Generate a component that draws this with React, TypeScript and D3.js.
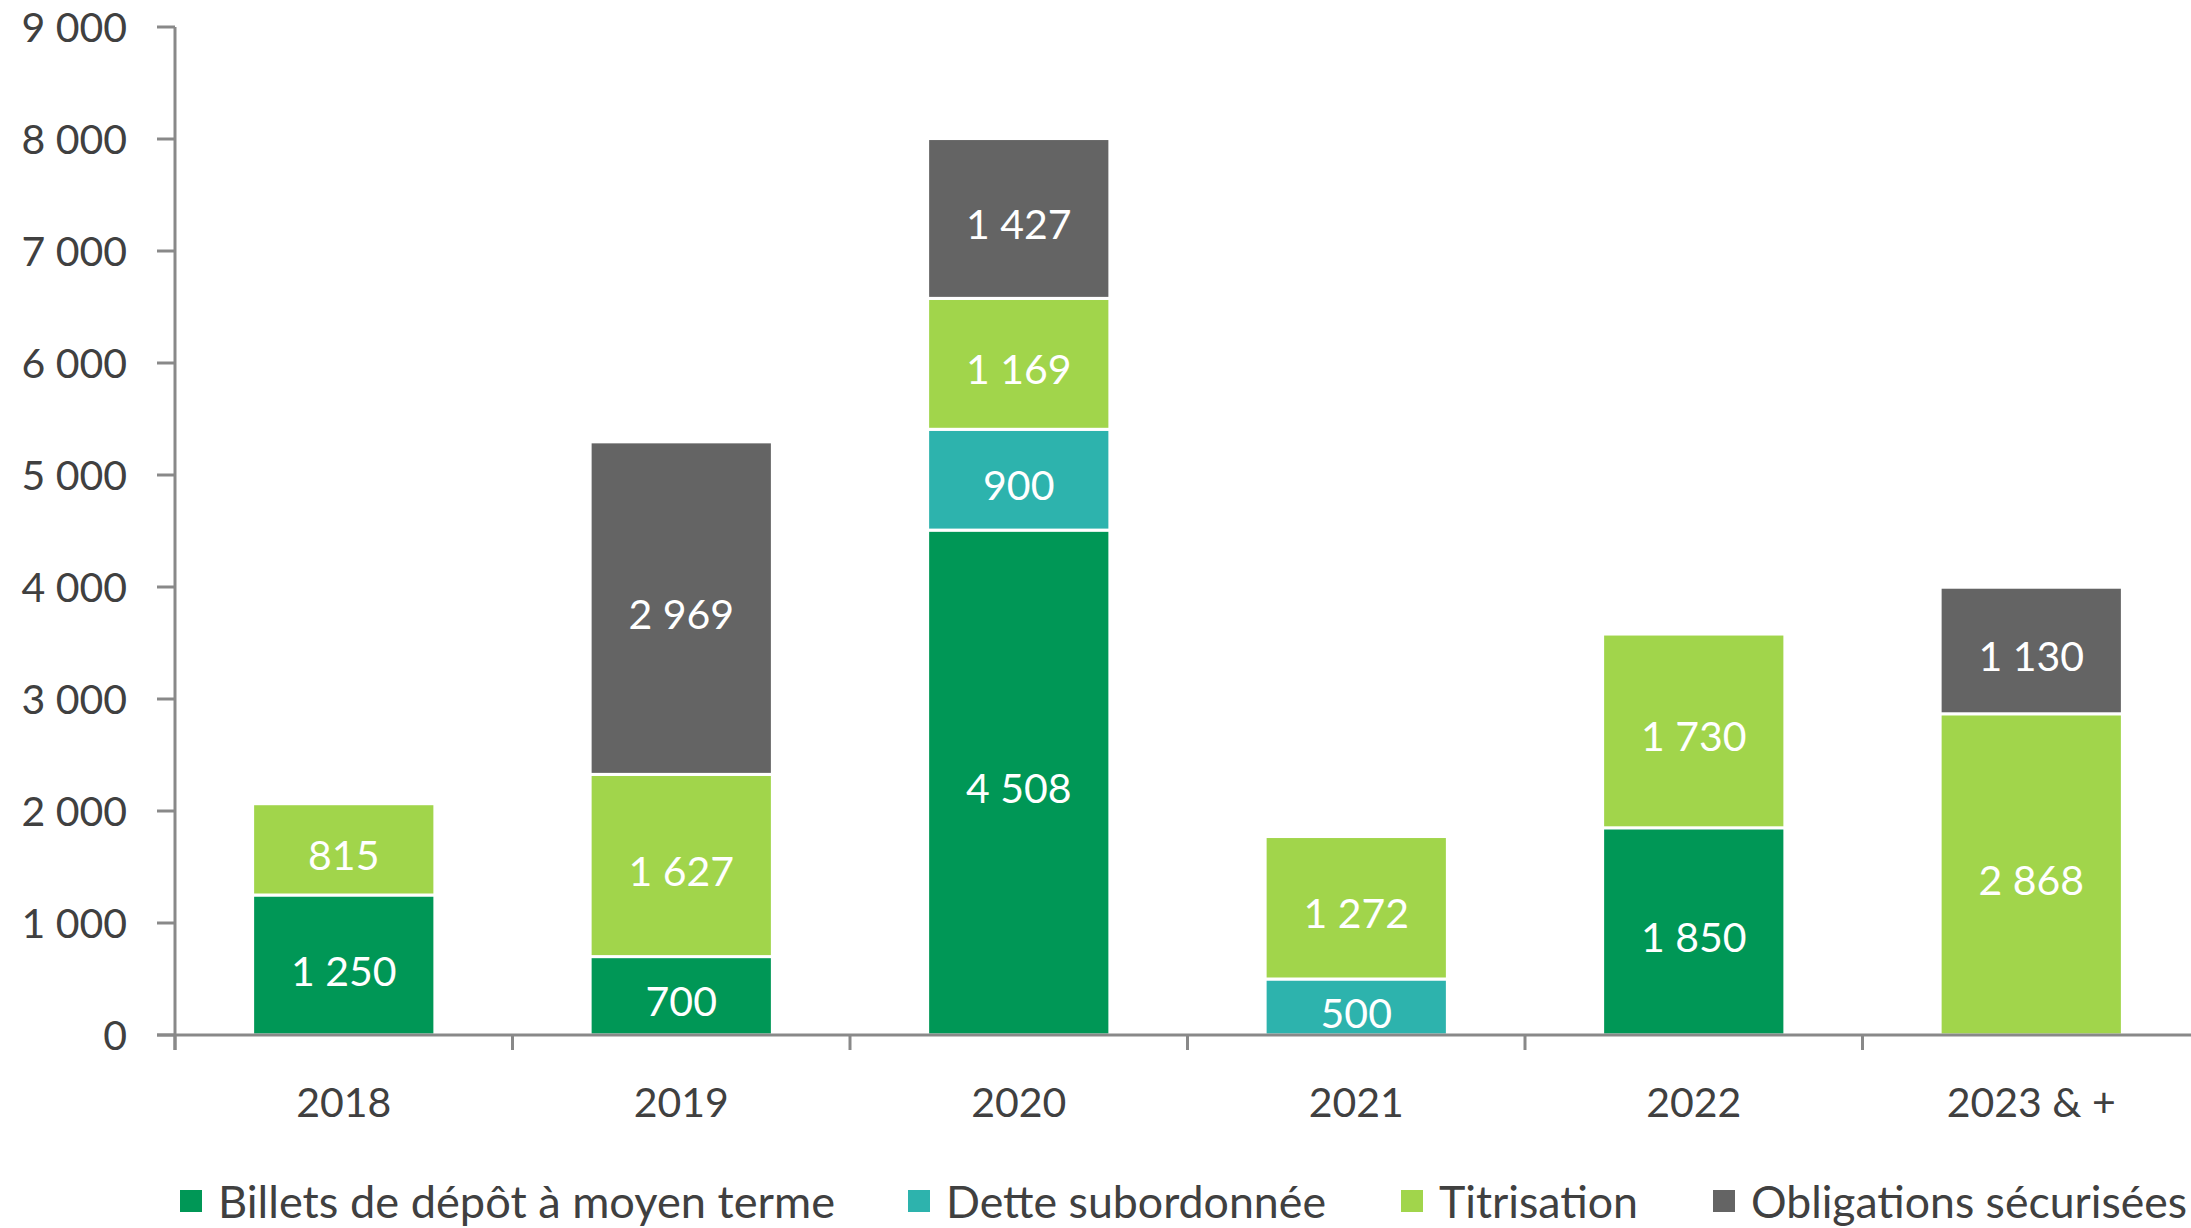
import React from "react";
import * as d3 from "d3";

const categories = ["2018", "2019", "2020", "2021", "2022", "2023 & +"];
const seriesNames = ["Billets de dépôt à moyen terme", "Dette subordonnée", "Titrisation", "Obligations sécurisées"];
const billets = [1250, 700, 4508, 0, 1850, 0];
const dette = [0, 0, 900, 500, 0, 0];
const titrisation = [815, 1627, 1169, 1272, 1730, 2868];
const obligations = [0, 2969, 1427, 0, 0, 1130];
const colors = ["#009756", "#2db3ad", "#a1d54b", "#646464"];
const yTicks = [0, 1000, 2000, 3000, 4000, 5000, 6000, 7000, 8000, 9000];

const W = 2191, H = 1228;
const FONT = "Lato, 'Open Sans', sans-serif";
const fmt = (v: number) => {
  const s = String(v);
  return s.replace(/\B(?=(\d{3})+(?!\d))/g, " ");
};

export default function App() {
  const x = d3.scaleBand<string>().domain(categories).range([175, 175 + 6 * 337.5]).paddingInner(0.46).paddingOuter(0.23);
  const y = d3.scaleLinear().domain([0, 9000]).range([1035, 27]);
  const seriesVals = [billets, dette, titrisation, obligations];
  const rows = categories.map((c, i) => ({ cat: c, s0: billets[i], s1: dette[i], s2: titrisation[i], s3: obligations[i] }));
  const stack = d3.stack<any>().keys(["s0", "s1", "s2", "s3"])(rows);
  const step = x.step();
  const legendX = [180, 908, 1401, 1713];
  const legendW = [617, 380, 199, 436];
  return (
    <svg width={W} height={H} style={{ position: "fixed", left: 0, top: 0, background: "#fff" }} fontFamily={FONT}>
      <rect width={W} height={H} fill="#fff" />
      {stack.map((layer, si) =>
        layer.map((d, ci) => {
          const v = seriesVals[si][ci];
          if (!v) return null;
          const y0 = y(d[0]), y1 = y(d[1]);
          const bx = x(categories[ci])!;
          return (
            <g key={`${si}-${ci}`}>
              <rect x={bx} y={y1} width={x.bandwidth()} height={y0 - y1} fill={colors[si]} stroke="#fff" strokeWidth={3} />
              <text x={bx + x.bandwidth() / 2} y={(y0 + y1) / 2} dy="0.5em" textAnchor="middle" fill="#fff" fontSize={41}>{fmt(v)}</text>
            </g>
          );
        })
      )}
      {/* y axis */}
      <line x1={175} x2={175} y1={27} y2={1050} stroke="#898989" strokeWidth={3} />
      {yTicks.map((t) => (
        <g key={t}>
          <line x1={157} x2={175} y1={y(t)} y2={y(t)} stroke="#898989" strokeWidth={3} />
          <text x={127} y={y(t)} dy="0.36em" textAnchor="end" fill="#404040" fontSize={41}>{fmt(t)}</text>
        </g>
      ))}
      {/* x axis */}
      <line x1={157} x2={W} y1={1035} y2={1035} stroke="#898989" strokeWidth={3} />
      {categories.map((c, i) => (
        <g key={c}>
          <line x1={175 + i * step} x2={175 + i * step} y1={1035} y2={1050} stroke="#898989" strokeWidth={3} />
          <text x={x(c)! + x.bandwidth() / 2} y={1117} textAnchor="middle" fill="#404040" fontSize={41}>{c}</text>
        </g>
      ))}
      {/* legend */}
      {seriesNames.map((n, i) => (
        <g key={n}>
          <rect x={legendX[i]} y={1190} width={22} height={22} fill={colors[i]} />
          <text x={legendX[i] + 38} y={1218} fill="#404040" fontSize={45} textLength={legendW[i]} lengthAdjust="spacingAndGlyphs">{n}</text>
        </g>
      ))}
    </svg>
  );
}
